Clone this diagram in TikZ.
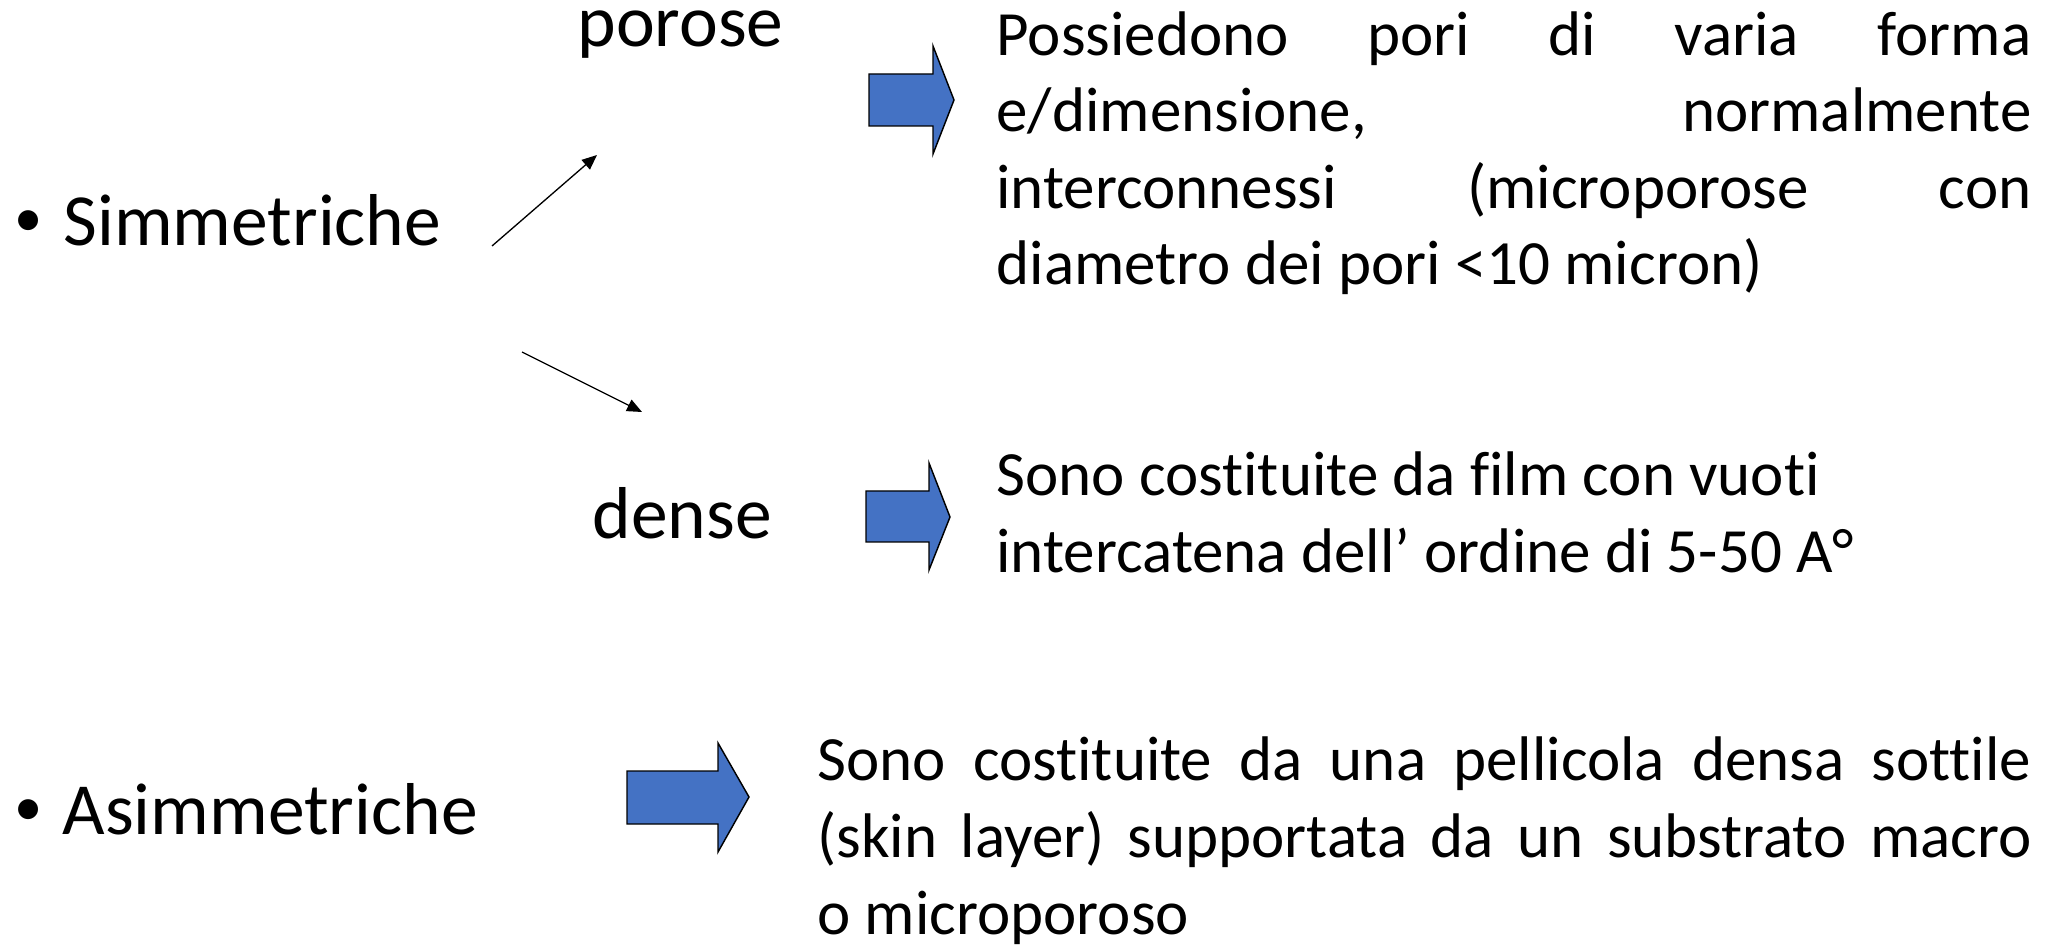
\documentclass[tikz,border=0pt]{standalone}
\usepackage{fontspec}
\setmainfont{Carlito}[Ligatures=NoCommon]
\usetikzlibrary{arrows.meta}
\definecolor{blockblue}{HTML}{4472C4}
\begin{document}
\begin{tikzpicture}[x=0.380952pt,y=-0.380952pt,
  lbl/.style={font=\fontsize{28}{34}\selectfont, inner sep=0pt, anchor=base west},
  bul/.style={font=\fontsize{21.5}{26}\selectfont, inner sep=0pt, anchor=base west},
  para/.style={font=\fontsize{24}{29.2}\selectfont, inner sep=0pt, anchor=base west, align=left},
  blockarrow/.style={draw=black, line width=0.55pt, fill=blockblue, line join=miter},
  thinarrow/.style={draw=black, line width=0.5pt, -{Triangle[length=5.7pt,width=4.8pt]}}]
\useasboundingbox (0,0) rectangle (2053,947);

% left labels
\node[bul] (b1) at (14,237) {•};
\node[lbl] (simm) at (63,246) {Simmetriche};
\node[lbl] (por) at (577,47) {porose};
\node[lbl] (den) at (592,539) {dense};
\node[bul] (b2) at (14,825) {•};
\node[lbl] (asimm) at (62,834) {Asimmetriche};

% thin connectors
\coordinate (s1) at (492,246);
\coordinate (e1) at (597,155);
\coordinate (s2) at (522,352);
\coordinate (e2) at (642,412);
\draw[thinarrow] (s1) -- (e1);
\draw[thinarrow] (s2) -- (e2);

% block arrows
\draw[blockarrow] (869,74) -- (933,74) -- (933,46) -- (954,100) -- (933,154) -- (933,126) -- (869,126) -- cycle;
\draw[blockarrow] (866,491) -- (929,491) -- (929,463) -- (950,517) -- (929,570) -- (929,542) -- (866,542) -- cycle;
\draw[blockarrow] (627,771) -- (718,771) -- (718,743) -- (749,797) -- (718,852) -- (718,824) -- (627,824) -- cycle;

% descriptions (anchor = baseline of last line)
\node[para] (t1) at (996,285) {%
\makebox[394.3pt][s]{Possiedono pori di varia forma}\\
\makebox[394.3pt][s]{e/dimensione, normalmente}\\
\makebox[394.3pt][s]{interconnessi (microporose con}\\
diametro dei pori <10 micron)};
\node[para] (t2) at (996,572) {%
Sono costituite da film con vuoti\\
intercatena dell\textquoteright\ ordine di 5-50 A\textdegree};
\node[para] (t3) at (817,934) {%
\makebox[462.5pt][s]{Sono costituite da una pellicola densa sottile}\\
\makebox[462.5pt][s]{(skin layer) supportata da un substrato macro}\\
o microporoso};
\end{tikzpicture}
\end{document}
